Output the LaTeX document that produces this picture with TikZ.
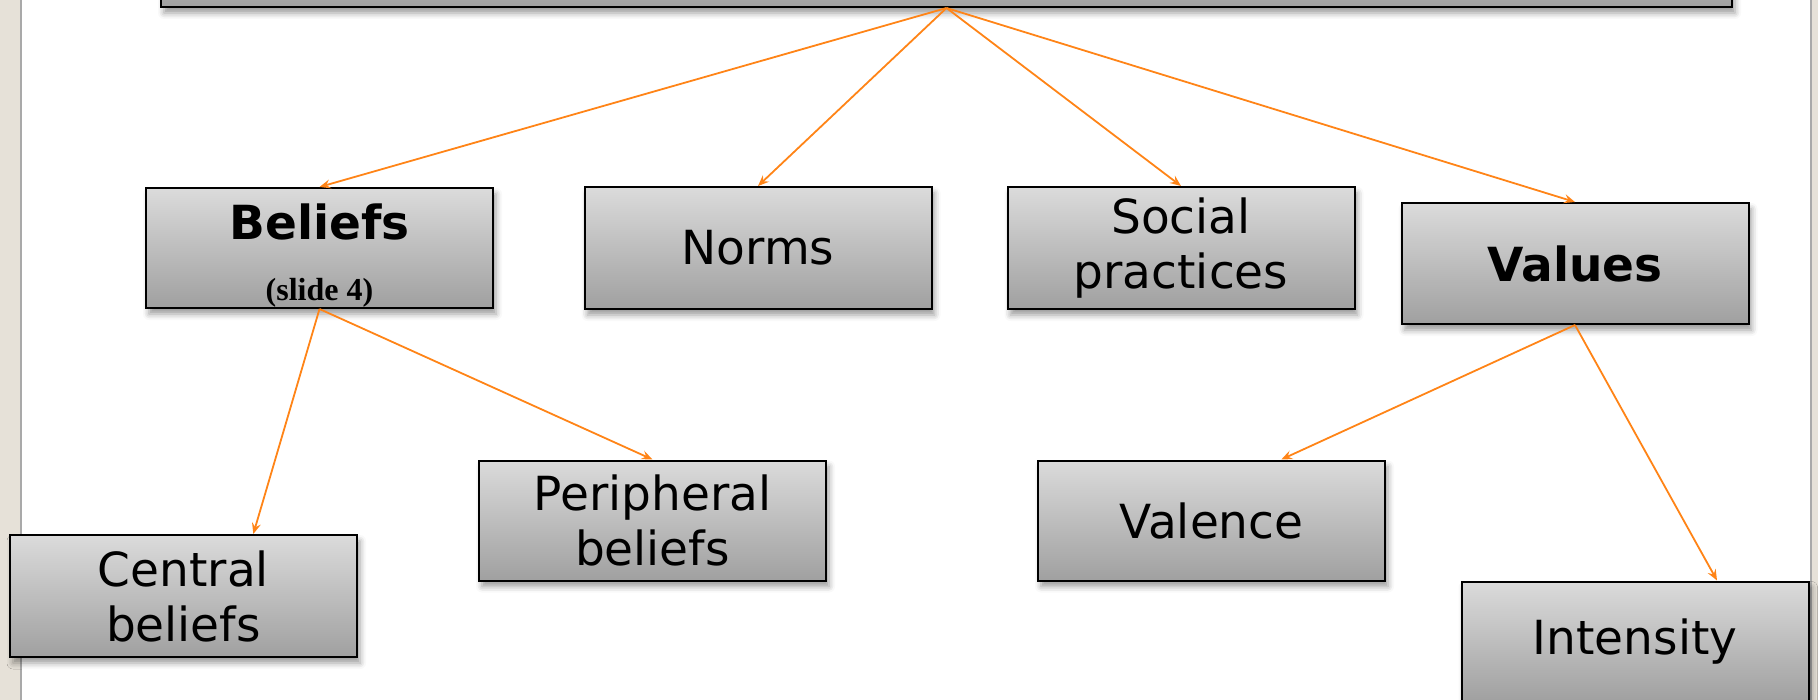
\documentclass[tikz,border=0pt]{standalone}
\usepackage{fontspec}
\setmainfont{DejaVu Sans}
\newfontfamily\slidefont{Liberation Serif}
\usetikzlibrary{arrows.meta,shadows.blur,calc}
\definecolor{boxtop}{HTML}{DBDBDB}
\definecolor{boxbottom}{HTML}{A0A0A0}
\definecolor{linkorange}{HTML}{FF8417}
\definecolor{sidebeige}{HTML}{E6E1D8}
\definecolor{sidegray}{HTML}{A9A9A9}

\begin{document}
\begin{tikzpicture}[
    x=1pt, y=-1pt,
    concept/.style={rectangle, draw=black, line width=2pt, top color=boxtop, bottom color=boxbottom,
        minimum width=347pt, minimum height=120pt, align=center, inner sep=0pt,
        font=\fontsize{47}{55}\selectfont,
        blur shadow={shadow xshift=3pt, shadow yshift=-6pt, shadow blur radius=6pt, shadow opacity=40}},
    link/.style={-{Stealth[length=11pt, width=9pt, inset=4pt]}, line width=1.8pt, draw=linkorange}
]
\useasboundingbox (0,0) rectangle (1818,700);

% Side strips
\fill[sidebeige] (0,0) rectangle (20,700);
\fill[sidegray] (20,0) rectangle (22,700);
\fill[sidegray] (1810,0) rectangle (1812,700);
\fill[sidebeige] (1812,0) rectangle (1818,700);

% Top box (cut off)
\node[concept, minimum width=1571pt, minimum height=114pt] (root) at (946.5,-50) {};

% First level
\node[concept] (beliefs) at (319.5,248) {\rule{0pt}{50pt}\bfseries Beliefs\\[6pt]{\slidefont\bfseries\fontsize{32}{32}\selectfont (slide 4)}};
\node[concept, minimum height=122pt] (norms) at (758,248) {Norms};
\node[concept, minimum height=122pt] (social) at (1181,248) {Social\\practices};
\node[concept, minimum height=121pt] (values) at (1575,263.5) {\bfseries Values};

% Second level
\node[concept, minimum height=122pt] (central) at (183.5,596) {Central\\beliefs};
\node[concept] (peripheral) at (652.5,520.5) {Peripheral\\beliefs};
\node[concept] (valence) at (1211.5,520.5) {Valence};
\node[concept] (intensity) at (1635,641.5) {Intensity};

% Links
\draw[link] (root.south) -- (beliefs.north);
\draw[link] (root.south) -- (norms.north);
\draw[link] (root.south) -- (social.north);
\draw[link] (root.south) -- (values.north);

\draw[link] (beliefs.south) -- ($(central.north west)!0.7!(central.north east)$);
\draw[link] (beliefs.south) -- (peripheral.north);
\draw[link] (values.south) -- ($(valence.north west)!0.7!(valence.north east)$);
\draw[link] (values.south) -- ($(intensity.north west)!0.735!(intensity.north east)$);

\end{tikzpicture}
\end{document}
